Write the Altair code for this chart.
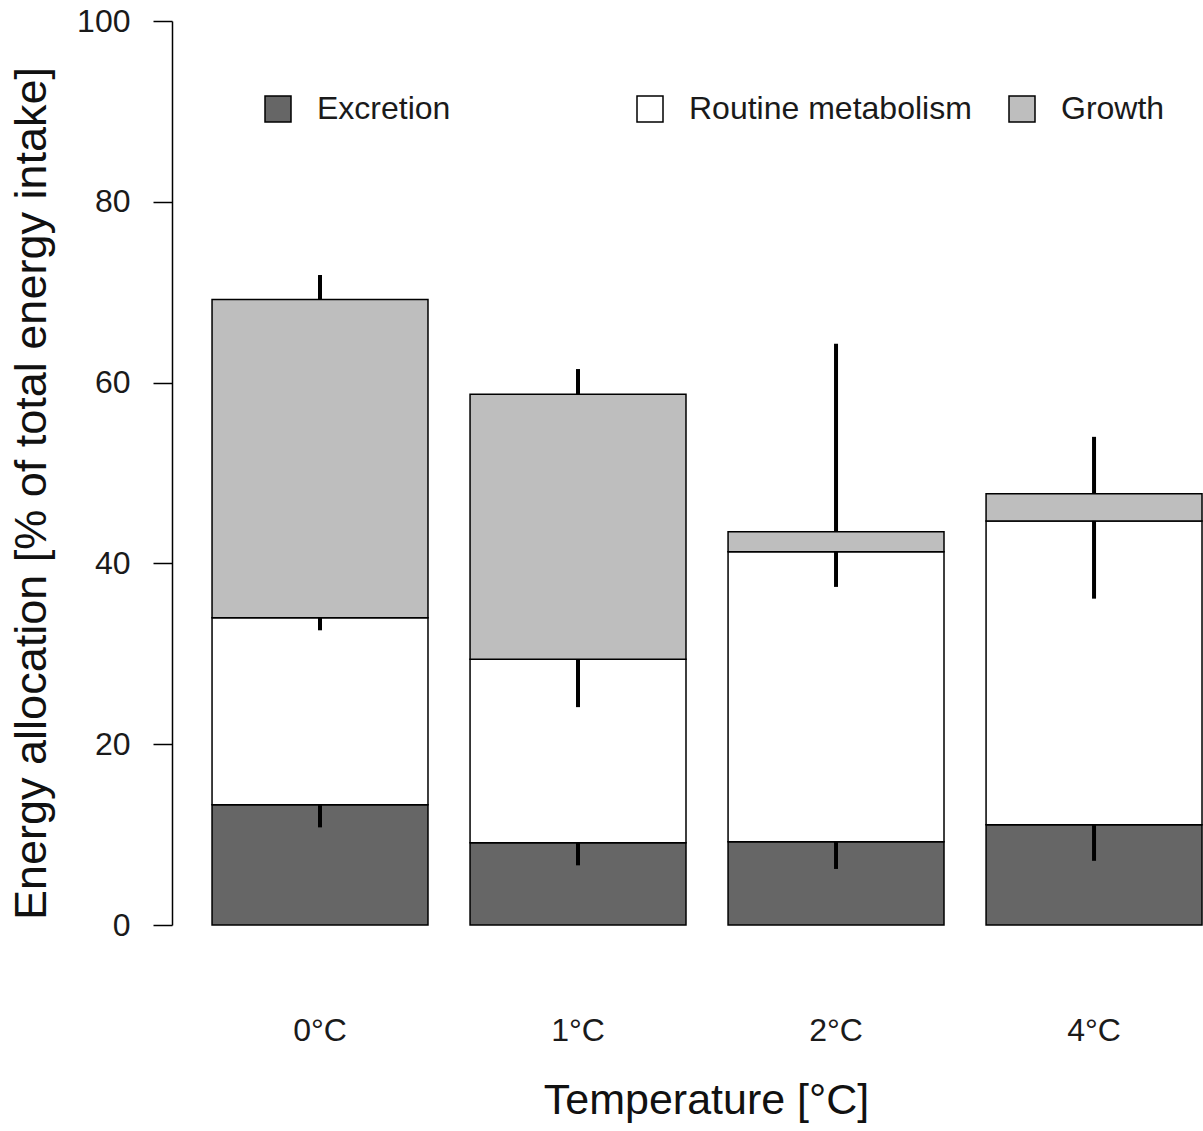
import altair as alt
import pandas as pd

temps = ["0°C", "1°C", "2°C", "4°C"]
components = ["Excretion", "Routine metabolism", "Growth"]
colors = ["#666666", "#ffffff", "#bebebe"]

excretion = [13.3, 9.1, 9.2, 11.1]
routine = [20.7, 20.3, 32.1, 33.6]
growth = [35.2, 29.3, 2.2, 3.0]

# signed error-bar lengths, drawn from the top of each segment
err_excretion = [-2.5, -2.5, -3.0, -4.0]
err_routine = [-1.4, -5.3, -3.9, -8.6]
err_growth = [2.7, 2.8, 20.8, 6.3]

rows = []
for i, t in enumerate(temps):
    base = 0.0
    for k, (comp, vals, errs) in enumerate(zip(components,
                                               [excretion, routine, growth],
                                               [err_excretion, err_routine, err_growth])):
        top = base + vals[i]
        rows.append({"temp": t, "comp": comp, "ord": k, "value": vals[i],
                     "y0": base, "top": top, "end": top + errs[i]})
        base = top
df = pd.DataFrame(rows)

FONT = "Liberation Sans"

xscale = alt.Scale(domain=temps, paddingInner=0.163, paddingOuter=0.0795, align=0.976)
yscale = alt.Scale(domain=[0, 100], nice=False)

bars = alt.Chart(df).mark_bar(stroke="black", strokeWidth=1.5, opacity=1).encode(
    x=alt.X("temp:N", scale=xscale, sort=temps,
            axis=alt.Axis(title="Temperature [°C]", domain=False, ticks=False,
                          labelAngle=0, labelFontSize=32, labelFont=FONT,
                          labelColor="#1a1a1a", labelPadding=90, labelBaseline="top",
                          titleFontSize=43, titleFont=FONT, titleFontWeight="normal",
                          titleColor="#111111", titleX=534, titleY=188,
                          titleBaseline="alphabetic", titleAlign="center")),
    y=alt.Y("y0:Q", scale=yscale,
            axis=alt.Axis(title="Energy allocation [% of total energy intake]",
                          values=[0, 20, 40, 60, 80, 100], grid=False,
                          domainColor="black", domainWidth=1.5, tickColor="black",
                          tickWidth=1.5, tickSize=19, labelFontSize=32, labelFont=FONT,
                          labelColor="#1a1a1a", labelPadding=23,
                          titleFontSize=45, titleFont=FONT, titleFontWeight="normal",
                          titleColor="#111111", titleX=-141, titleY=472,
                          titleAngle=270, titleBaseline="middle", titleAlign="center")),
    y2="top:Q",
    fill=alt.Fill("comp:N", scale=alt.Scale(domain=components, range=colors),
                  legend=alt.Legend(title=None, orient="none", legendX=90, legendY=72,
                                    direction="horizontal", columns=3, gridAlign="all",
                                    columnPadding=34, symbolType="square",
                                    symbolSize=676, symbolStrokeColor="black",
                                    symbolStrokeWidth=1.5, labelFontSize=32,
                                    labelFont=FONT, labelColor="#1a1a1a",
                                    labelOffset=23, padding=0, labelLimit=500)),
    order=alt.Order("ord:Q"),
)

errs = alt.Chart(df).mark_rule(color="black", strokeWidth=4).encode(
    x=alt.X("temp:N", scale=xscale, sort=temps),
    y=alt.Y("top:Q", scale=yscale),
    y2="end:Q",
)

chart = (bars + errs).properties(
    width=1031, height=904,
    padding={"left": 172, "top": 21, "right": 0, "bottom": 206},
    autosize="none",
    background="white",
).configure_view(stroke=None, strokeWidth=0).configure_axis(grid=False)

chart.save("out.html", embed_options={"renderer": "svg", "actions": False})
